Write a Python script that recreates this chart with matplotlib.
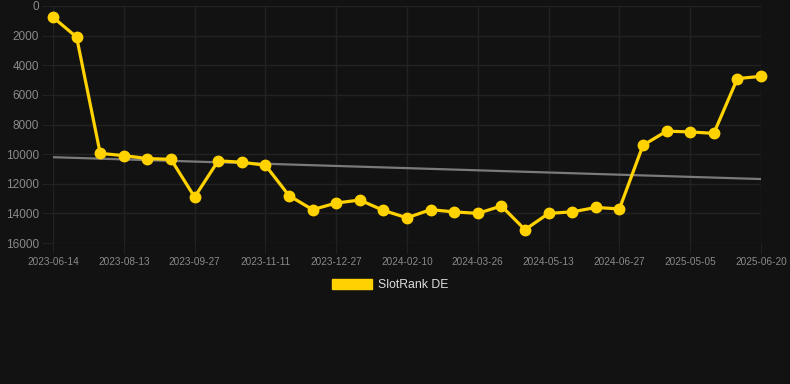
import numpy as np
import matplotlib
matplotlib.use("Agg")
import matplotlib.pyplot as plt
from matplotlib.patches import Patch

plt.rcParams['font.family'] = ['Liberation Sans', 'DejaVu Sans']

# dates (only every third one is shown on the axis)
dates = [
    "2023-06-14", "2023-07-04", "2023-07-24", "2023-08-13", "2023-08-28",
    "2023-09-12", "2023-09-27", "2023-10-12", "2023-10-27", "2023-11-11",
    "2023-11-26", "2023-12-11", "2023-12-27", "2024-01-11", "2024-01-26",
    "2024-02-10", "2024-02-25", "2024-03-11", "2024-03-26", "2024-04-11",
    "2024-04-27", "2024-05-13", "2024-05-28", "2024-06-12", "2024-06-27",
    "2025-04-05", "2025-04-20", "2025-05-05", "2025-05-20", "2025-06-05",
    "2025-06-20",
]
rank_de = [
    760, 2100, 9950, 10100, 10300, 10350, 12900, 10450, 10550, 10750,
    12800, 13750, 13300, 13100, 13800, 14300, 13750, 13900, 14000, 13500,
    15100, 14000, 13900, 13600, 13700, 9400, 8450, 8500, 8600, 4900,
    4750,
]
series_name = "SlotRank DE"

bg = "#121212"
gold = "#ffd200"
grid_c = "#222222"
tick_c = "#8a8a8a"

fig = plt.figure(figsize=(7.9, 3.84), dpi=100, facecolor=bg)
ax = fig.add_axes([53 / 790, 1 - 243 / 384, (761 - 53) / 790, (243 - 6) / 384])
ax.set_facecolor(bg)

x = np.arange(len(rank_de))
ax.plot(x, rank_de, color=gold, lw=2.3, marker="o", ms=7.5, zorder=3, clip_on=False)

# trend line
k, b = np.polyfit(x, rank_de, 1)
ax.plot(x, k * x + b, color="#7a7a7a", lw=1.6, zorder=2)

ax.set_xlim(0, len(rank_de) - 1)
ax.set_ylim(16000, 0)
ax.set_yticks(range(0, 16001, 2000))
ax.set_xticks(x[::3])
ax.set_xticklabels(dates[::3])

ax.grid(True, color=grid_c, lw=1)
for s in ax.spines.values():
    s.set_visible(False)
ax.tick_params(axis="y", colors=grid_c, labelcolor=tick_c, labelsize=8.5, length=8, pad=2)
ax.tick_params(axis="x", colors=grid_c, labelcolor=tick_c, labelsize=7.2, length=7, pad=3)

leg = fig.legend(handles=[Patch(facecolor=gold, edgecolor=gold)], labels=[series_name],
                 loc="center", bbox_to_anchor=(390 / 790, 1 - 285 / 384),
                 frameon=False, fontsize=8.8, handlelength=3.3, handleheight=0.9,
                 handletextpad=0.5, borderpad=0)
for t in leg.get_texts():
    t.set_color("#dddddd")

fig.savefig("out.png", dpi=100, facecolor=bg)
